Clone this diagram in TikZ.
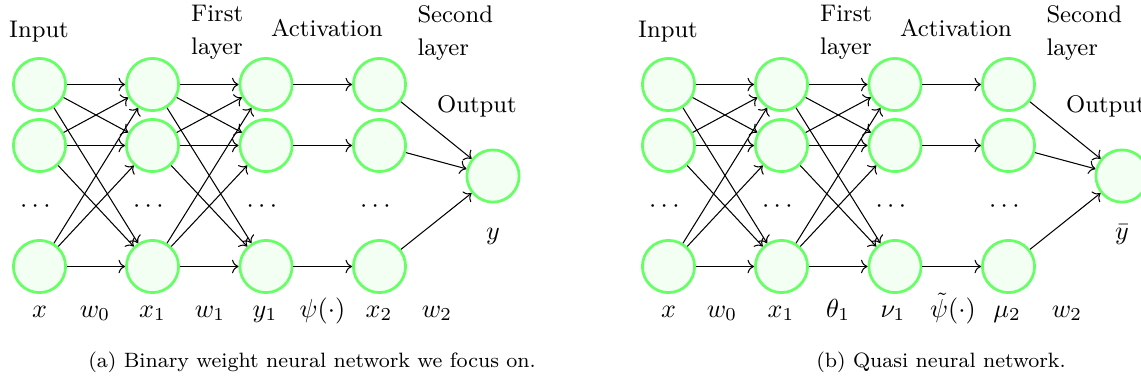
\documentclass[tikz,border=0pt]{standalone}
\usepackage{amsmath,amssymb}
\usetikzlibrary{arrows.meta}

\begin{document}
\begin{tikzpicture}[x=0.383pt, y=-0.383pt,
    neuron/.style={circle, draw=green!60, fill=green!5, line width=1.05pt, minimum size=20pt, inner sep=0pt},
    lab/.style={inner sep=0pt, anchor=base},
    head/.style={inner sep=0pt, anchor=base, font=\fontsize{9.2}{12.6}\selectfont},
    twolines/.style={head, anchor=north west, align=left},
    capt/.style={inner sep=0pt, anchor=base, font=\fontsize{7.95}{10}\selectfont}]
    \useasboundingbox (0,0) rectangle (1141,383);
    \foreach \p/\dx in {a/0, b/629} {
      \begin{scope}[shift={(\dx,0)}]
        % neurons and dots
        \foreach \c/\cx in {0/39.5, 1/152.5, 2/266, 3/379.5} {
          \foreach \r/\ry in {1/84.5, 2/145.5, 3/266.5}
            \node[neuron] (\p-\c-\r) at (\cx,\ry) {};
          \node[lab] (\p-dots\c) at (\cx-2,212.5) {$\cdots$};
        }
        \node[neuron] (\p-out) at (493,176) {};
        % headings
        \node[head] (\p-hin) at (39,37) {Input};
        \node[twolines] (\p-hfirst) at (190.7,5) {First\\layer};
        \node[head] (\p-hact) at (327,36) {Activation};
        \node[twolines] (\p-hsecond) at (417,5) {Second\\layer};
        \node[head] (\p-hout) at (477,112) {Output};
        % connections
        \foreach \c/\n in {0/1, 1/2}
          \foreach \i in {1,2,3}
            \foreach \j in {1,2,3}
              \draw[->] (\p-\c-\i) -- (\p-\n-\j);
        \foreach \i in {1,2,3} {
          \draw[->] (\p-2-\i) -- (\p-3-\i);
          \draw[->] (\p-3-\i) -- (\p-out);
        }
      \end{scope}
    }
    % variables under the layers
    \foreach \lx/\txt [count=\k] in {39.5/x, 95/w_0, 152.5/x_1, 210/w_1, 265/y_1, 322.5/{\psi(\cdot)}, 379/x_2, 437/w_2}
      \node[lab] (a-var\k) at (\lx,317) {$\txt$};
    \foreach \lx/\txt [count=\k] in {668.5/x, 722/w_0, 781/x_1, 838/{\theta_1}, 893/{\nu_1}, 953/{\tilde{\psi}(\cdot)}, 1007/{\mu_2}, 1067/w_2}
      \node[lab] (b-var\k) at (\lx,317) {$\txt$};
    \node[lab] (a-y) at (493,239) {$y$};
    \node[lab] (b-y) at (1122,239) {$\bar{y}$};
    % captions
    \node[capt] (a-cap) at (312,367) {(a) Binary weight neural network we focus on.};
    \node[capt] (b-cap) at (941,367) {(b) Quasi neural network.};
\end{tikzpicture}
\end{document}
